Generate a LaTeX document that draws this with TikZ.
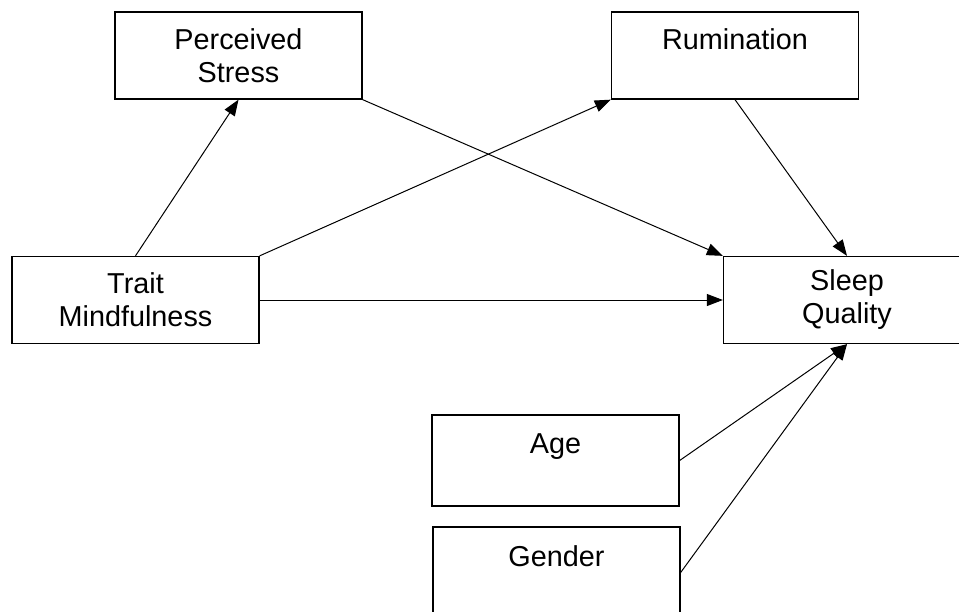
\documentclass[tikz,border=0pt]{standalone}
\usepackage{fontspec}
\setmainfont{Liberation Sans}
\usepackage{tikz}
\usetikzlibrary{arrows.meta, positioning}

\tikzset{
	varbox/.style={draw, line width=1.3pt, minimum width=247pt, minimum height=87pt,
		align=center, inner sep=0pt, font=\fontsize{28.8}{33}\selectfont},
	link/.style={line width=1pt, -{Triangle[length=16pt, width=12pt]}},
}

\begin{document}
\begin{tikzpicture}[x=1pt, y=-1pt]
	\useasboundingbox (0,0) rectangle (959,611);
	\clip (0,0) rectangle (959,611);

	\node[varbox] (stress) at (238.5,55.5) {Perceived\\Stress};
	\node[varbox] (rum) at (735,55.5) {Rumination\\\mbox{}};
	\node[varbox] (trait) at (135.5,300) {Trait\\Mindfulness};
	\node[varbox] (sleep) at (847,300) {Sleep\\Quality};
	\node[varbox, minimum height=91pt] (age) at (555.5,460.5) {Age\\\mbox{}};
	\node[varbox, minimum height=91pt] (gender) at (556.5,572.5) {Gender\\\mbox{}};

	% paths into sleep quality
	\draw[link] (trait.north) -- (stress.south);
	\draw[link] (trait.north east) -- (rum.south west);
	\draw[link] (trait.east) -- (sleep.west);
	\draw[link] (stress.south east) -- (sleep.north west);
	\draw[link] (rum.south) -- (sleep.north);
	\draw[link] (age.east) -- (sleep.south);
	\draw[link] (gender.east) -- (sleep.south);
	%\draw[link] (age.east) -- (gender.east);
\end{tikzpicture}
\end{document}
